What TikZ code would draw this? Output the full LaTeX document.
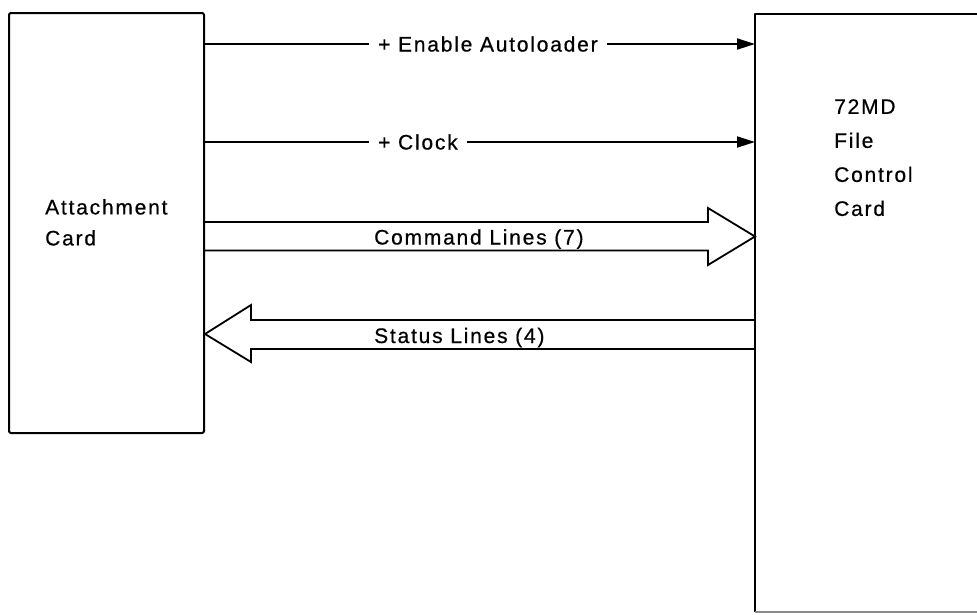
\documentclass[tikz,border=0pt]{standalone}
\usepackage{fontspec}
\setmainfont{Liberation Sans}[LetterSpace=8.5, FakeBold=0.6]
\usetikzlibrary{arrows.meta}
\begin{document}
\begin{tikzpicture}[x=1pt,y=-1pt,
  boxline/.style={line width=2pt, line join=round},
  cardbox/.style={draw, boxline, rounded corners=2pt, inner sep=0pt},
  lbl/.style={font=\fontsize{21}{31}\selectfont, inner sep=0pt},
  sig/.style={line width=1.8pt, -{Triangle[length=18pt,width=11pt]}},
  bus/.style={line width=1.8pt, line join=miter},
  gaplbl/.style={lbl, fill=white, inner xsep=9pt, anchor=west}]
\useasboundingbox (0,0) rectangle (977,614);
% boxes
\node[cardbox, minimum width=195pt, minimum height=420pt, anchor=north west] (att) at (8,12) {};
\node[inner sep=0pt, minimum width=240pt, minimum height=598pt, anchor=north west] (fcc) at (755,14) {};
\draw[boxline] (fcc.north east) -- (fcc.north west) -- (fcc.south west);
\draw[boxline, black!45] (fcc.south west) -- (fcc.south east);
% box labels
\node[lbl, anchor=north west, align=left] (attlbl) at (45,199) {Attachment\\Card};
\node[lbl, anchor=north west, align=left, font=\fontsize{21}{34}\selectfont] (fcclbl) at (834,99) {72MD\\File\\Control\\Card};
% single signal lines
\draw[sig] (att.east |- 0,44) -- (fcc.west |- 0,44);
\node[gaplbl] (enlbl) at (369,44) {+ Enable Autoloader};
\draw[sig] (att.east |- 0,142) -- (fcc.west |- 0,142);
\node[gaplbl] (clklbl) at (369,142) {+ Clock};
% bus arrows
\draw[bus] (att.east |- 0,222) -- (708,222) -- (708,208) -- (fcc.west |- 0,236.5) -- (708,265) -- (708,250.5) -- (att.east |- 0,250.5);
\node[lbl, anchor=base west] (cmdlbl) at (374,244.5) {Command Lines (7)};
\draw[bus] (fcc.west |- 0,320) -- (251,320) -- (251,305) -- (att.east |- 0,334) -- (251,362) -- (251,349) -- (fcc.west |- 0,349);
\node[lbl, anchor=base west] (stslbl) at (374,343) {Status Lines (4)};
\end{tikzpicture}
\end{document}
